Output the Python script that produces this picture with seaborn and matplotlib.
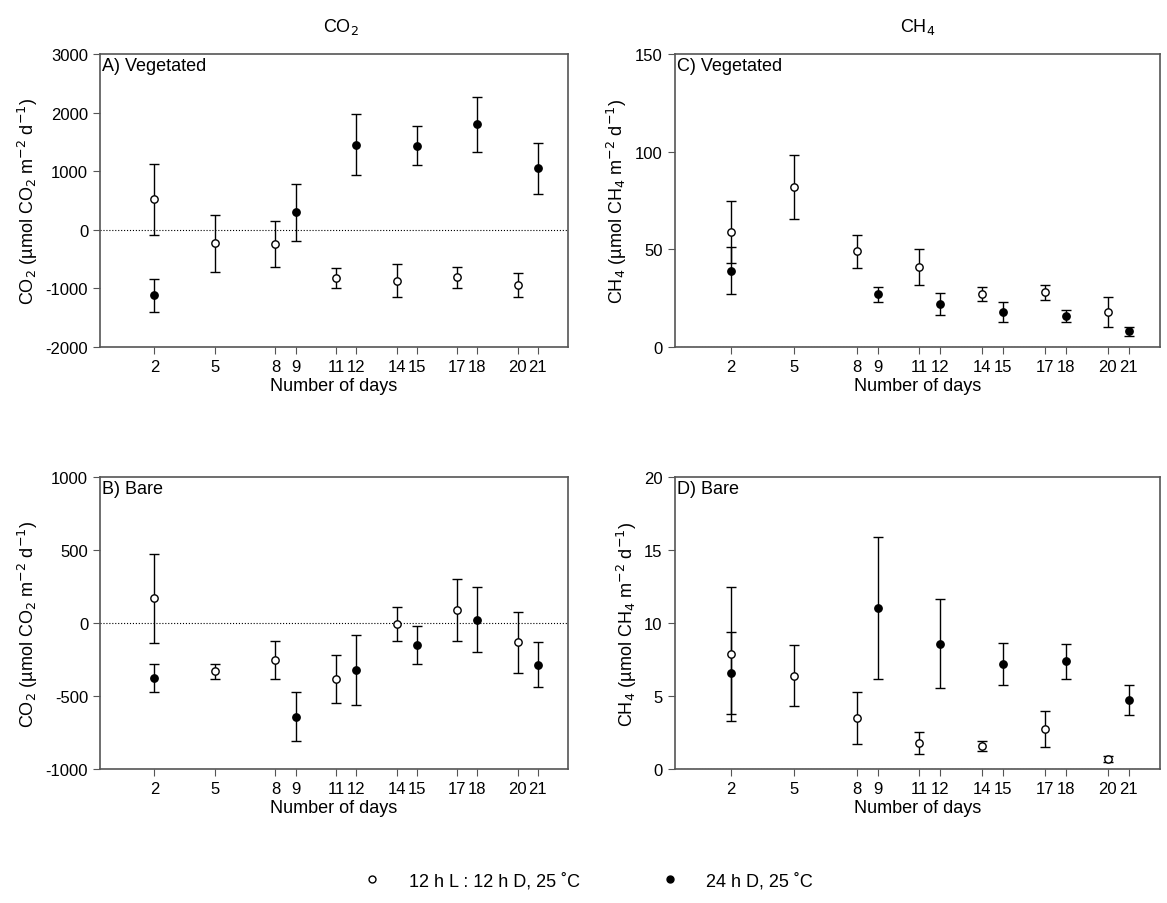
import numpy as np
import pandas as pd
import matplotlib
matplotlib.use("Agg")
import matplotlib.pyplot as plt
import seaborn as sns
from matplotlib.lines import Line2D

sns.set_style("ticks")
plt.rcParams['font.family'] = ['Liberation Sans', 'DejaVu Sans']
plt.rcParams['axes.unicode_minus'] = False
plt.rcParams['text.color'] = 'black'
plt.rcParams['axes.labelcolor'] = 'black'
plt.rcParams['xtick.labelcolor'] = 'black'
plt.rcParams['ytick.labelcolor'] = 'black'

# days
days_open = [2, 5, 8, 11, 14, 17, 20]
days_fill = [2, 9, 12, 15, 18, 21]
tick_days = [2, 5, 8, 9, 11, 12, 14, 15, 17, 18, 20, 21]
tick_labels = ['2', '5', '8', '9', '11', '12', '14', '15', '17', '18', '20', '21']

# A) CO2 vegetated
a_open = [520, -230, -240, -820, -870, -810, -940]
a_open_err = [605, 490, 395, 175, 280, 180, 200]
a_fill = [-1120, 300, 1450, 1440, 1800, 1050]
a_fill_err = [280, 485, 520, 340, 465, 430]

# B) CO2 bare
b_open = [170, -330, -250, -380, -5, 90, -130]
b_open_err = [305, 50, 130, 165, 115, 210, 210]
b_fill = [-375, -640, -320, -150, 25, -285]
b_fill_err = [95, 170, 240, 130, 225, 155]

# C) CH4 vegetated
c_open = [59, 82, 49, 41, 27, 28, 18]
c_open_err = [16, 16.5, 8.5, 9, 3.5, 4, 7.5]
c_fill = [39, 27, 22, 18, 16, 8]
c_fill_err = [12, 4, 5.5, 5, 3, 2.5]

# D) CH4 bare
d_open = [7.9, 6.4, 3.5, 1.8, 1.6, 2.75, 0.7]
d_open_err = [4.6, 2.1, 1.8, 0.75, 0.35, 1.25, 0.2]
d_fill = [6.6, 11.05, 8.6, 7.2, 7.4, 4.75]
d_fill_err = [2.8, 4.85, 3.05, 1.45, 1.2, 1.05]

fig = plt.figure(figsize=(11.67, 9.04), dpi=100)
pos = {
    'A': [0.0857, 0.615, 0.401, 0.324],
    'B': [0.0857, 0.148, 0.401, 0.323],
    'C': [0.578, 0.615, 0.416, 0.324],
    'D': [0.578, 0.148, 0.416, 0.323],
}
panels = [
    ('A', 'A) Vegetated', a_open, a_open_err, a_fill, a_fill_err, (-2000, 3000), [-2000, -1000, 0, 1000, 2000, 3000], 'CO$_2$ (µmol CO$_2$ m$^{-2}$ d$^{-1}$)'),
    ('B', 'B) Bare', b_open, b_open_err, b_fill, b_fill_err, (-1000, 1000), [-1000, -500, 0, 500, 1000], 'CO$_2$ (µmol CO$_2$ m$^{-2}$ d$^{-1}$)'),
    ('C', 'C) Vegetated', c_open, c_open_err, c_fill, c_fill_err, (0, 150), [0, 50, 100, 150], 'CH$_4$ (µmol CH$_4$ m$^{-2}$ d$^{-1}$)'),
    ('D', 'D) Bare', d_open, d_open_err, d_fill, d_fill_err, (0, 20), [0, 5, 10, 15, 20], 'CH$_4$ (µmol CH$_4$ m$^{-2}$ d$^{-1}$)'),
]

for key, title, yo, eo, yf, ef, ylim, yticks, ylabel in panels:
    ax = fig.add_axes(pos[key])
    ax.axhline(0, color='black', lw=0.8, ls=':')
    ax.errorbar(days_open, yo, yerr=eo, fmt='none', ecolor='black', elinewidth=1, capsize=3.5, capthick=1)
    ax.errorbar(days_fill, yf, yerr=ef, fmt='none', ecolor='black', elinewidth=1, capsize=3.5, capthick=1)
    df_o = pd.DataFrame({'day': days_open, 'val': yo})
    df_f = pd.DataFrame({'day': days_fill, 'val': yf})
    sns.scatterplot(data=df_o, x='day', y='val', ax=ax, marker='o', s=28, facecolor='white', edgecolor='black', linewidth=1, zorder=3)
    sns.scatterplot(data=df_f, x='day', y='val', ax=ax, marker='o', s=28, color='black', edgecolor='black', linewidth=1, zorder=3)
    ax.set_xlim(-0.7, 22.5)
    ax.set_ylim(*ylim)
    ax.set_yticks(yticks)
    ax.set_xticks(tick_days)
    ax.set_xticklabels(tick_labels)
    ax.tick_params(labelsize=12, color='#555555', length=5)
    for s in ax.spines.values():
        s.set_color('#555555')
        s.set_linewidth(1.2)
    ax.set_xlabel('Number of days', fontsize=13, labelpad=2)
    ax.set_ylabel(ylabel, fontsize=13)
    ax.text(0.005, 0.99, title, transform=ax.transAxes, ha='left', va='top', fontsize=13)

fig.text(0.292, 0.965, 'CO$_2$', ha='center', fontsize=13)
fig.text(0.786, 0.965, 'CH$_4$', ha='center', fontsize=13)

# legend
handles = [
    Line2D([], [], ls='none', marker='o', markersize=5, mfc='white', mec='black', label='12 h L : 12 h D, 25 ˚C'),
    Line2D([], [], ls='none', marker='o', markersize=5, mfc='black', mec='black', label='24 h D, 25 ˚C'),
]
fig.legend(handles=handles, loc='center', bbox_to_anchor=(0.5, 0.025), ncol=2, frameon=False,
           fontsize=13, columnspacing=4, handletextpad=1.0)

plt.savefig('out.png', dpi=100)
